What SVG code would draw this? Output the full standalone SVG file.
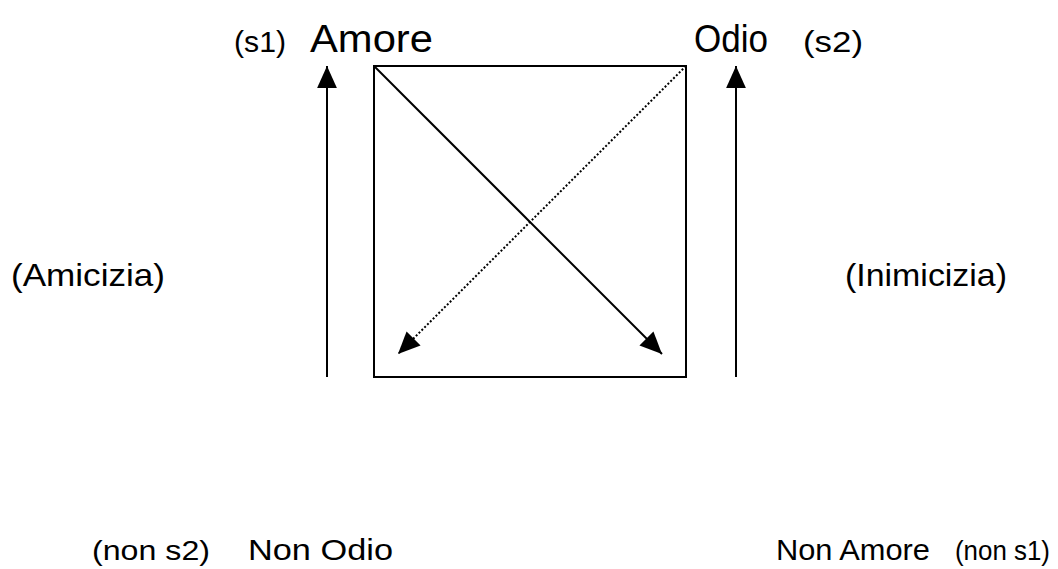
<svg xmlns="http://www.w3.org/2000/svg" width="1058" height="569" viewBox="0 0 1058 569">
<defs>
<marker id="ahb" viewBox="0 0 10 10" refX="10" refY="5" markerWidth="22" markerHeight="22" markerUnits="userSpaceOnUse" orient="auto">
<path d="M0,0.5 L10,5 L0,9.5 z" fill="#000"/>
</marker>
</defs>
<style>
.t{font-family:"Liberation Sans",Arial,sans-serif;fill:#000}
.big{font-size:39px}
.lab{font-size:32px}
.mid{font-size:30px}
.sm{font-size:28px}
.ln{stroke:#000;stroke-width:2;fill:none}
</style>
<rect width="1058" height="569" fill="#fff"/>
<g id="box"><rect x="374" y="66" width="312" height="311" class="ln"/></g>
<g id="connectors">
<line x1="327" y1="377" x2="327" y2="66" class="ln" marker-end="url(#ahb)"/>
<line x1="736" y1="377" x2="736" y2="66" class="ln" marker-end="url(#ahb)"/>
<line x1="374" y1="66" x2="662" y2="354" class="ln" marker-end="url(#ahb)"/>
<line x1="686" y1="66" x2="398" y2="354" stroke="#000" stroke-width="2" stroke-dasharray="2,2" marker-end="url(#ahb)"/>
</g>
<g id="s1"><text class="t mid" x="234" y="52" textLength="52" lengthAdjust="spacingAndGlyphs">(s1)</text></g>
<g id="amore"><text class="t big" x="310" y="52" textLength="123" lengthAdjust="spacingAndGlyphs">Amore</text></g>
<g id="odio"><text class="t big" x="694" y="52" textLength="74" lengthAdjust="spacingAndGlyphs">Odio</text></g>
<g id="s2"><text class="t mid" x="803" y="52" textLength="60" lengthAdjust="spacingAndGlyphs">(s2)</text></g>
<g id="amicizia"><text class="t lab" x="11" y="286" textLength="154" lengthAdjust="spacingAndGlyphs">(Amicizia)</text></g>
<g id="inimicizia"><text class="t lab" x="845" y="286" textLength="162" lengthAdjust="spacingAndGlyphs">(Inimicizia)</text></g>
<g id="nons2"><text class="t sm" x="92" y="560" textLength="118" lengthAdjust="spacingAndGlyphs">(non s2)</text></g>
<g id="nonodio"><text class="t mid" x="248" y="560" textLength="145" lengthAdjust="spacingAndGlyphs">Non Odio</text></g>
<g id="nonamore"><text class="t mid" x="776" y="560" textLength="154" lengthAdjust="spacingAndGlyphs">Non Amore</text></g>
<g id="nons1"><text class="t sm" x="955" y="560" textLength="95" lengthAdjust="spacingAndGlyphs">(non s1)</text></g>
</svg>
